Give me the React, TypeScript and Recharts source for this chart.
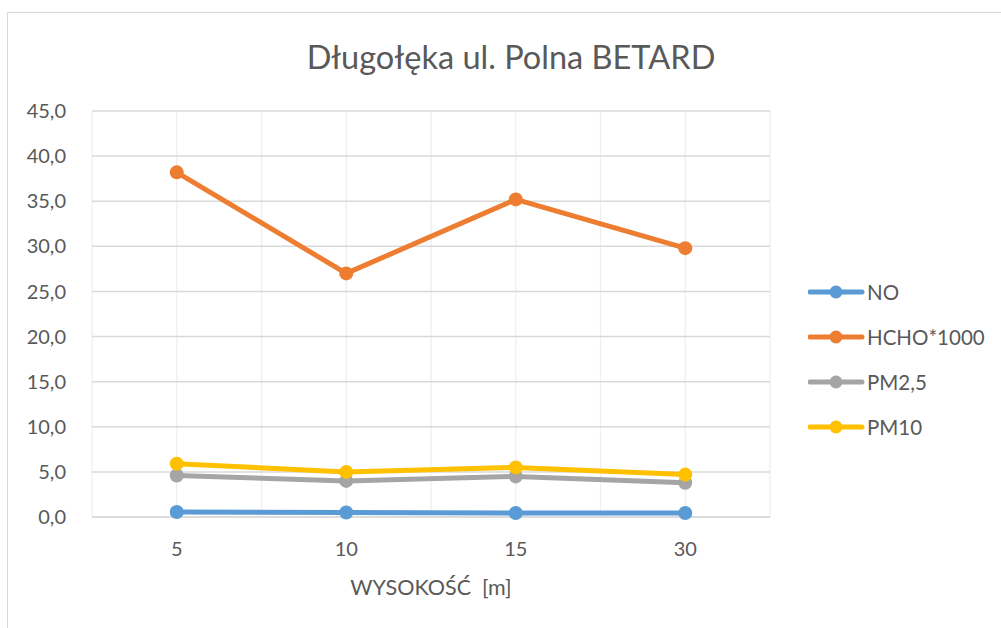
import React from "react";
import { LineChart, Line, XAxis, YAxis, CartesianGrid, Legend } from "recharts";

const heights = ["5", "10", "15", "30"];
const noValues = [0.55, 0.5, 0.45, 0.45];
const hchoValues = [38.2, 27.0, 35.2, 29.8];
const pm25Values = [4.6, 4.0, 4.5, 3.8];
const pm10Values = [5.9, 5.0, 5.5, 4.7];
const yTicks = [0, 5, 10, 15, 20, 25, 30, 35, 40, 45];

const seriesDefs = [
  { key: "NO", name: "NO", color: "#5b9bd5", values: noValues },
  { key: "HCHO", name: "HCHO*1000", color: "#ed7d31", values: hchoValues },
  { key: "PM25", name: "PM2,5", color: "#a5a5a5", values: pm25Values },
  { key: "PM10", name: "PM10", color: "#ffc000", values: pm10Values },
];

const data = heights.map((h, i) => {
  const row: Record<string, string | number> = { h };
  seriesDefs.forEach((s) => {
    row[s.key] = s.values[i];
  });
  return row;
});

const FONT = "Lato, 'Open Sans', sans-serif";
const TEXT = "#595959";

const fmt = (v: number) => v.toFixed(1).replace(".", ",");

const LegendContent = () => (
  <div style={{ fontFamily: FONT, fontSize: 20.5, color: TEXT }}>
    {seriesDefs.map((s) => (
      <div key={s.key} style={{ display: "flex", alignItems: "center", height: 45 }}>
        <svg width={58} height={16} style={{ marginRight: 1 }}>
          <line x1={2} y1={8} x2={54} y2={8} stroke={s.color} strokeWidth={5} strokeLinecap="round" />
          <circle cx={28} cy={8} r={6.5} fill={s.color} />
        </svg>
        <span>{s.name}</span>
      </div>
    ))}
  </div>
);

export default function App() {
  return (
    <div
      style={{
        position: "relative",
        width: 1001,
        height: 628,
        overflow: "hidden",
        background: "#fff",
      }}
    >
      <style>{"body{margin:0}"}</style>
      <div
        style={{
          position: "absolute",
          left: 7,
          top: 12,
          width: 2000,
          height: 2000,
          borderTop: "1.5px solid #d9d9d9",
          borderLeft: "1.5px solid #d9d9d9",
        }}
      />
      <div
        style={{
          position: "absolute",
          left: 0,
          top: 37,
          width: 1022,
          textAlign: "center",
          fontFamily: FONT,
          fontSize: 32.5,
          color: TEXT,
        }}
      >
        Długołęka ul. Polna BETARD
      </div>
      <div style={{ position: "absolute", left: 0, top: 0 }}>
        <LineChart
          width={1001}
          height={628}
          data={data}
          margin={{ top: 111, right: 231, left: 0, bottom: 21 }}
        >
          <CartesianGrid
            horizontal={false}
            stroke="#efefef"
            strokeWidth={1.3}
            verticalCoordinatesGenerator={({ offset }: any) =>
              Array.from({ length: 9 }, (_, i) => offset.left + (offset.width * i) / 8)
            }
          />
          <CartesianGrid vertical={false} stroke="#d9d9d9" strokeWidth={1.5} />
          <XAxis
            dataKey="h"
            scale="band"
            height={90}
            axisLine={{ stroke: "#d9d9d9", strokeWidth: 1.5 }}
            tickLine={false}
            tickMargin={19}
            tick={{ fill: TEXT, fontSize: 20, fontFamily: FONT }}
            label={{
              value: "WYSOKOŚĆ\u00a0 [m]",
              position: "insideBottom",
              offset: 12,
              fill: TEXT,
              fontSize: 21.5,
              fontFamily: FONT,
            }}
          />
          <YAxis
            width={92}
            domain={[0, 45]}
            ticks={yTicks}
            tickFormatter={fmt}
            axisLine={false}
            tickLine={false}
            tickMargin={20}
            tick={{ fill: TEXT, fontSize: 20, fontFamily: FONT }}
          />
          <Legend
            layout="vertical"
            align="center"
            verticalAlign="middle"
            content={<LegendContent />}
            wrapperStyle={{ left: 808, top: 269, width: 190 }}
          />
          {seriesDefs.map((s) => (
            <Line
              key={s.key}
              dataKey={s.key}
              name={s.name}
              stroke={s.color}
              strokeWidth={5}
              dot={{ r: 7, fill: s.color, stroke: s.color, strokeWidth: 0 }}
              activeDot={false}
              isAnimationActive={false}
            />
          ))}
        </LineChart>
      </div>
    </div>
  );
}
